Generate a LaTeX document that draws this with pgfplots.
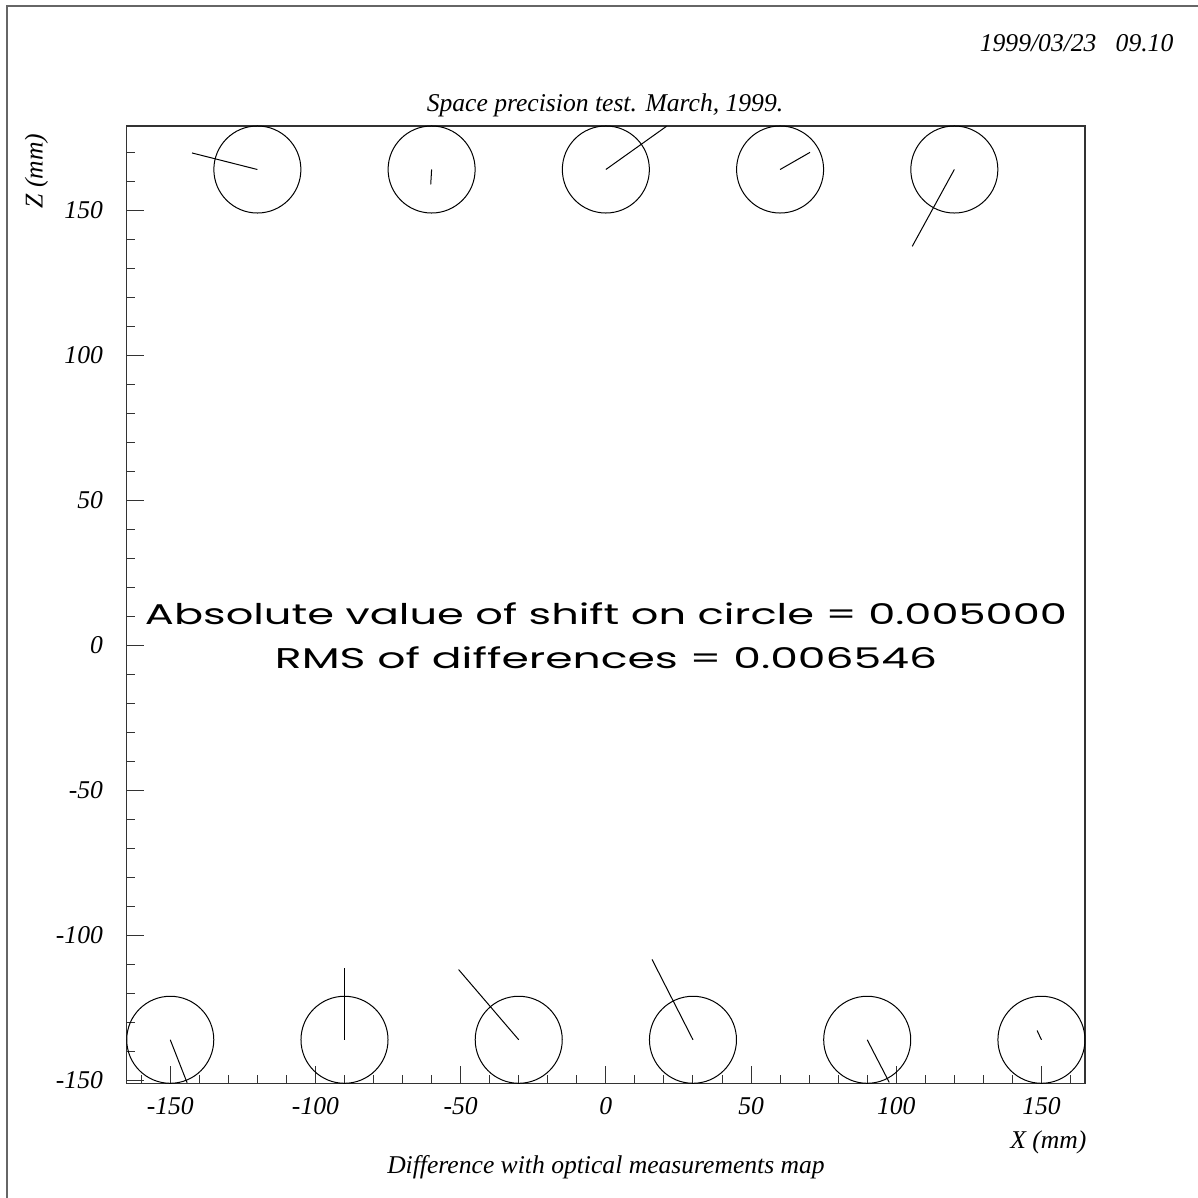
\documentclass[border=0pt]{standalone}
\usepackage{pgfplots}
\pgfplotsset{compat=1.18}
\usepackage{pgfplotstable}
\usepackage{fontspec}
\setmainfont{Liberation Serif}
\newfontfamily\rootfont{Poppins}
\newcommand\tfont{\fontsize{12.8}{15}\selectfont\itshape}

% circle centres (x,z) and shift vectors (dx,dz), mm
\pgfplotstableread{
x    z     dx     dz
-120 164  -22.5    5.7
-60  164   -0.3   -5.1
0    164   20.9   14.9
60   164   10.3    5.9
120  164  -14.5  -26.5
-150 -136   5.8  -14.8
-90  -136   0.0   24.8
-30  -136 -20.7   24.2
30   -136 -14.1   27.7
90   -136   7.6  -14.7
150  -136  -1.5    3.2
}\pts

\begin{document}
\begin{tikzpicture}
\useasboundingbox (-63.35pt,-57.35pt) rectangle (535.65pt,541.65pt);
\draw[black!60, line width=0.8pt] (-59.85pt,-60pt) -- (-59.85pt,538.65pt) -- (540pt,538.65pt);
\begin{axis}[
  at={(0pt,0pt)}, anchor=south west,
  scale only axis, width=479.15pt, height=478.65pt,
  xmin=-165, xmax=165, ymin=-151, ymax=179,
  axis line style={line width=0.7pt, black!80},
  tick pos=left, tick align=inside,
  major tick length=8.7pt, minor tick length=4.2pt,
  every tick/.style={black!80, line width=0.5pt},
  xtick={-150,-100,...,150},
  xticklabels={-150,-100,-50,0,50,100,150},
  minor xtick={-160,-150,...,160},
  ytick={-150,-100,...,150},
  yticklabels={-150,-100,-50,0,50,100,150},
  minor ytick={-150,-140,...,170},
  xticklabel style={font=\tfont, anchor=north, inner sep=0pt, yshift=-6.8pt},
  yticklabel style={font=\tfont, anchor=east, inner sep=0pt, xshift=-11.7pt},
]
\addplot[only marks, mark=o, mark size=21.76pt, black, line width=0.5pt] table[x=x,y=z]{\pts};
\addplot[quiver={u=\thisrow{dx},v=\thisrow{dz}}, black, line width=0.5pt] table[x=x,y=z]{\pts};
\end{axis}
\node[anchor=base east, font=\tfont, inner sep=0pt] at (523.5pt,515.8pt) {1999/03/23\hspace{0.75em}09.10};
\node[anchor=base, font=\tfont] at (239.15pt,485.8pt) {Space precision test. March, 1999.};
\node[rotate=90, anchor=base east, font=\tfont] at (-42pt,478.2pt) {Z (mm)};
\node[anchor=base east, font=\tfont, inner sep=0pt] at (480pt,-32.35pt) {X (mm)};
\node[anchor=base, font=\tfont] at (239.65pt,-44.85pt) {Difference with optical measurements map};
\node[anchor=base, inner sep=0pt] at (239.65pt,229.15pt) {\rootfont\resizebox{461pt}{10.9pt}{Absolute value of shift on circle = 0.005000}};
\node[anchor=base, inner sep=0pt] at (239.65pt,207.5pt) {\rootfont\resizebox{331pt}{10.9pt}{RMS of differences = 0.006546}};
\end{tikzpicture}
\end{document}
